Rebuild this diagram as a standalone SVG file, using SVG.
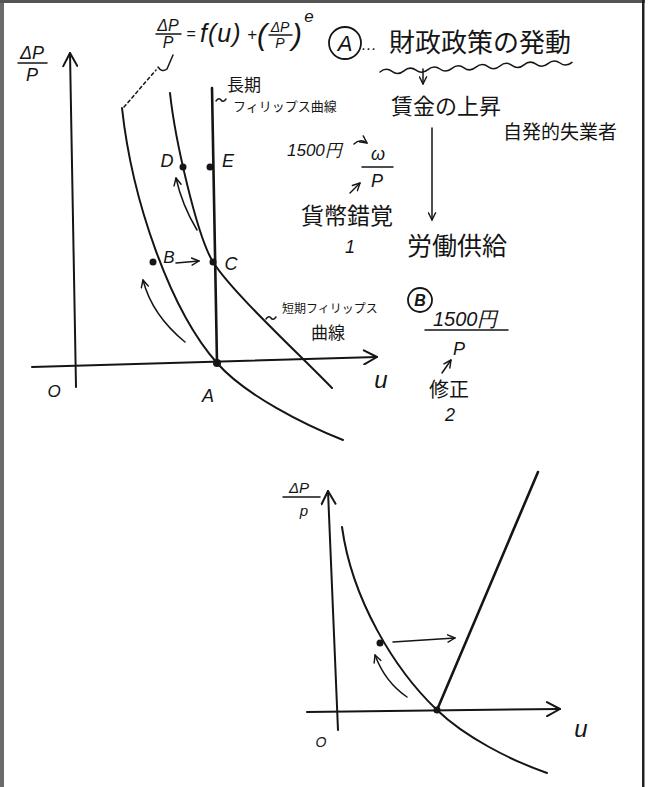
<svg xmlns="http://www.w3.org/2000/svg" width="648" height="787" viewBox="0 0 648 787">
<defs>
<style>
.ln{fill:none;stroke:#151515;stroke-width:2;stroke-linecap:round;stroke-linejoin:round}
.thick{fill:none;stroke:#151515;stroke-width:2.6;stroke-linecap:round}
.thin{fill:none;stroke:#151515;stroke-width:1.5;stroke-linecap:round;stroke-linejoin:round}
.dot{fill:#151515}
.lat{font-family:"Liberation Sans",Arial,sans-serif;font-style:italic;fill:#151515}
.jp{font-family:"Noto Sans CJK JP","Noto Sans CJK SC",sans-serif;fill:#151515}
</style>
<marker id="head" viewBox="0 0 10 10" refX="9" refY="5" markerWidth="9" markerHeight="9" markerUnits="userSpaceOnUse" orient="auto">
<path d="M1,1 L9,5 L1,9" fill="none" stroke="#151515" stroke-width="1.6" stroke-linecap="round" stroke-linejoin="round"/>
</marker>
<marker id="axhead" viewBox="0 0 16 16" refX="15" refY="8" markerWidth="16" markerHeight="16" markerUnits="userSpaceOnUse" orient="auto">
<path d="M2,1 L15,8 L2,15" fill="none" stroke="#151515" stroke-width="2" stroke-linecap="round" stroke-linejoin="round"/>
</marker>
</defs>
<rect x="0" y="0" width="648" height="787" fill="#ffffff"/>
<g id="frame">
<rect x="0" y="0" width="4" height="787" fill="#6a6a6a"/>
<rect x="0" y="0" width="645" height="3" fill="#555"/>
<rect x="642" y="0" width="2.5" height="787" fill="#222"/>
</g>

<g id="top-graph">
<g id="axes-top">
<path class="ln" d="M76,387 L70,53" marker-end="url(#axhead)"/>
<path class="ln" d="M32,367 L377,357" marker-end="url(#axhead)"/>
</g>
<g id="curves-top">
<path class="ln" d="M122,108 C132,200 170,310 217,363 C245,395 305,425 343,440"/>
<path class="ln" d="M170,93 C175,140 197,236 213,262 C232,292 295,350 332,388"/>
<path class="thick" d="M212,88 L217,363"/>
</g>
<g id="points-top">
<circle class="dot" cx="183" cy="167" r="3.5"/>
<circle class="dot" cx="210" cy="167" r="3.5"/>
<circle class="dot" cx="153" cy="262" r="3.5"/>
<circle class="dot" cx="213" cy="262" r="3.5"/>
<circle class="dot" cx="217" cy="363" r="4"/>
</g>
<g id="connectors-top">
<path class="thin" d="M176,263 L199,261" marker-end="url(#head)"/>
<path class="thin" d="M185,342 Q152,315 143,280" marker-end="url(#head)"/>
<path class="thin" d="M197,230 Q182,205 176,178" marker-end="url(#head)"/>
<path class="thin" stroke-dasharray="3,3" d="M124,107 L156,70"/>
<path class="thin" d="M173,55 L167,69 Q162,73 158,67"/>
<path class="thin" d="M216,101 q3,-4 5,-1 t5,-1"/>
<path class="thin" d="M266,319 q3,-4 5,-1 t5,-1"/>
</g>
<g id="labels-top">
<text class="lat" x="32" y="59" font-size="18" text-anchor="middle">ΔP</text>
<path class="thin" d="M18,63 L47,63"/>
<text class="lat" x="32" y="81" font-size="18" text-anchor="middle">P</text>
<text class="lat" x="54" y="397" font-size="17" text-anchor="middle">O</text>
<text class="lat" x="208" y="402" font-size="18" text-anchor="middle">A</text>
<text class="lat" x="381" y="388" font-size="24" text-anchor="middle">u</text>
<text class="lat" x="167" y="167" font-size="18" text-anchor="middle">D</text>
<text class="lat" x="228" y="167" font-size="18" text-anchor="middle">E</text>
<text class="lat" x="169" y="263" font-size="17" text-anchor="middle">B</text>
<text class="lat" x="231" y="270" font-size="18" text-anchor="middle">C</text>
<text class="jp" x="227" y="91" font-size="17">長期</text>
<text class="jp" x="233" y="111" font-size="13">フィリップス曲線</text>
<text class="jp" x="282" y="313" font-size="12">短期フィリップス</text>
<text class="jp" x="311" y="339" font-size="17">曲線</text>
</g>
</g>

<g id="formula">
<text class="lat" x="168" y="31" font-size="16" text-anchor="middle">ΔP</text>
<path class="thin" d="M156,34 L181,34"/>
<text class="lat" x="168" y="48" font-size="16" text-anchor="middle">P</text>
<text class="lat" x="191" y="39" font-size="16" text-anchor="middle">=</text>
<text class="lat" x="200" y="42" font-size="25" letter-spacing="1">f(u)</text>
<text class="lat" x="252" y="40" font-size="17" text-anchor="middle">+</text>
<text class="lat" x="262" y="45" font-size="30" text-anchor="middle">(</text>
<text class="lat" x="280" y="32" font-size="14" text-anchor="middle">ΔP</text>
<path class="thin" d="M269,35 L292,35"/>
<text class="lat" x="280" y="48" font-size="14" text-anchor="middle">P</text>
<text class="lat" x="297" y="45" font-size="30" text-anchor="middle">)</text>
<text class="lat" x="309" y="22" font-size="17" text-anchor="middle">e</text>
</g>

<g id="note-A">
<circle cx="345" cy="43" r="16" fill="none" stroke="#151515" stroke-width="1.8"/>
<text class="lat" x="345" y="51" font-size="22" text-anchor="middle">A</text>
<text class="lat" x="369" y="50" font-size="16" text-anchor="middle">…</text>
<text class="jp" x="389" y="52" font-size="26">財政政策の発動</text>
<path class="thin" d="M380,72 Q386,67 392,71.4 T404,70.8 T416,70.2 T428,69.6 T440,69 T452,68.4 T464,67.8 T476,67.2 T488,66.6 T500,66 T512,65.4 T524,64.8 T536,64.2 T548,63.6 T560,63 T572,62.4"/>
<path class="thin" d="M423,69 L423,84" marker-end="url(#head)"/>
<text class="jp" x="391" y="114" font-size="22">賃金の上昇</text>
<text class="jp" x="503" y="139" font-size="19">自発的失業者</text>
<path class="thin" d="M432,128 L432,220" marker-end="url(#head)"/>
<text class="jp" x="407" y="255" font-size="25">労働供給</text>
<text class="lat" x="287" y="156" font-size="17">1500円</text>
<path class="thin" d="M354,144 Q360,138 367,143" marker-end="url(#head)"/>
<text class="lat" x="378" y="160" font-size="18" text-anchor="middle">ω</text>
<path class="thin" d="M362,167 L393,167"/>
<text class="lat" x="377" y="187" font-size="18" text-anchor="middle">P</text>
<path class="thin" d="M350,193 L360,183" marker-end="url(#head)"/>
<text class="jp" x="301" y="224" font-size="23">貨幣錯覚</text>
<text class="lat" x="350" y="253" font-size="18" text-anchor="middle">1</text>
</g>

<g id="note-B">
<circle cx="420" cy="300" r="12" fill="none" stroke="#151515" stroke-width="1.8"/>
<text class="lat" x="420" y="306" font-size="16" font-weight="bold" text-anchor="middle">B</text>
<text class="lat" x="433" y="326" font-size="20">1500円</text>
<path class="thin" d="M425,330 L508,330"/>
<text class="lat" x="459" y="355" font-size="18" text-anchor="middle">P</text>
<path class="thin" d="M442,373 L451,360" marker-end="url(#head)"/>
<text class="jp" x="429" y="397" font-size="20">修正</text>
<text class="lat" x="450" y="421" font-size="18" text-anchor="middle">2</text>
</g>

<g id="bottom-graph">
<g id="axes-bottom">
<path class="ln" d="M338,730 L328,491" marker-end="url(#axhead)"/>
<path class="ln" d="M307,712 L560,709" marker-end="url(#axhead)"/>
</g>
<g id="curves-bottom">
<path class="ln" d="M342,527 C352,600 395,670 437,710 C465,737 510,760 547,773"/>
<path class="thick" d="M437,710 L538,472"/>
</g>
<g id="points-bottom">
<circle class="dot" cx="380" cy="643" r="3.5"/>
<circle class="dot" cx="437" cy="710" r="3.5"/>
</g>
<g id="connectors-bottom">
<path class="thin" d="M393,642 L455,638" marker-end="url(#head)"/>
<path class="thin" d="M407,697 Q385,682 375,655" marker-end="url(#head)"/>
</g>
<g id="labels-bottom">
<text class="lat" x="299" y="493" font-size="15" text-anchor="middle">ΔP</text>
<path class="thin" d="M283,497 L320,497"/>
<text class="lat" x="304" y="516" font-size="15" text-anchor="middle">p</text>
<text class="lat" x="321" y="747" font-size="14" text-anchor="middle">O</text>
<text class="lat" x="581" y="737" font-size="24" text-anchor="middle">u</text>
</g>
</g>
</svg>
